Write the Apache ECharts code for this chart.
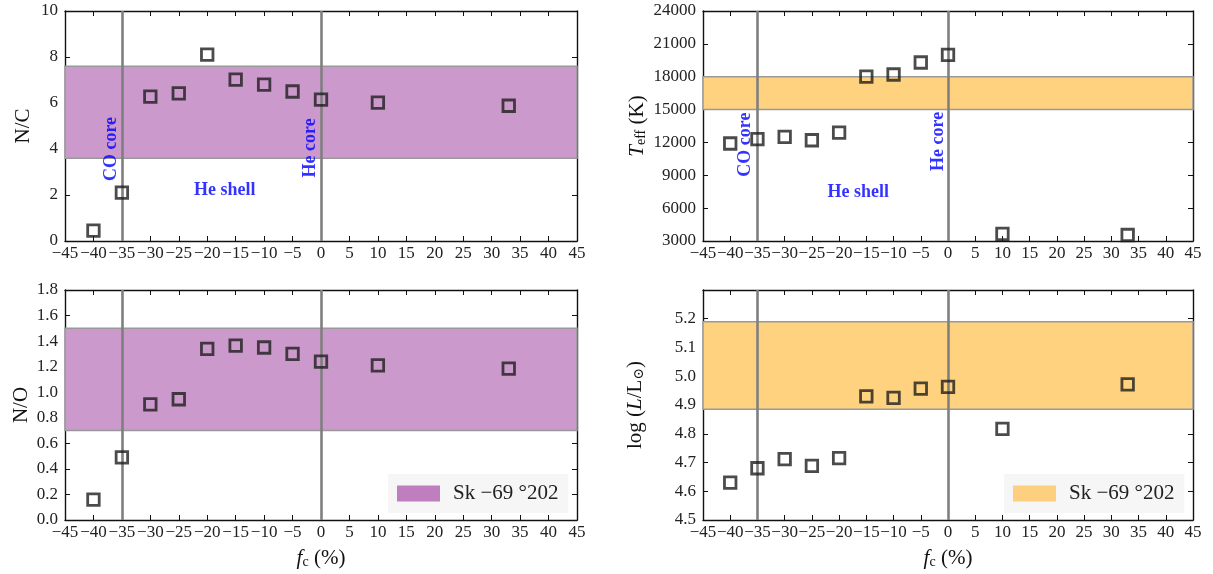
<!DOCTYPE html>
<html>
<head>
<meta charset="utf-8">
<script src="https://cdn.jsdelivr.net/npm/echarts@6/dist/echarts.min.js"></script>
<style>
html,body{margin:0;padding:0;background:#fff;}
#c{width:1213px;height:574px;}
</style>
</head>
<body>
<div id="c"></div>
<script>
// ---- data ----
const fc = [-40, -35, -30, -25, -20, -15, -10, -5, 0, 10, 33];
const nC = [0.45, 2.1, 6.28, 6.42, 8.1, 7.02, 6.8, 6.5, 6.15, 6.02, 5.88];
const teff = [11900, 12300, 12500, 12200, 12900, 18000, 18200, 19300, 20000, 3650, 3550];
const nO = [0.16, 0.49, 0.905, 0.945, 1.34, 1.365, 1.35, 1.30, 1.24, 1.21, 1.185];
const logL = [4.63, 4.68, 4.712, 4.688, 4.715, 4.93, 4.925, 4.957, 4.963, 4.817, 4.972];
const ncBand = [3.6, 7.6];
const teffBand = [15000, 18000];
const noBand = [0.7, 1.5];
const lBand = [4.885, 5.19];
const boundaries = [-35, 0];
const legendLabel = 'Sk \u221269 \u00b0202';
const ncAnnot = [[-36.9, 4.0, 'CO core', 90], [-1.9, 4.05, 'He core', 90], [-16.9, 2.2, 'He shell', 0]];
const teffAnnot = [[-37.2, 11800, 'CO core', 90], [-1.8, 12100, 'He core', 90], [-16.5, 7450, 'He shell', 0]];
const xRange = [-45, 45, 5];
const ncRange = [0, 10, 2];
const teffRange = [3000, 24000, 3000];
const noRange = [0, 1.8, 0.2];
const lRange = [4.5, 5.3, 0.1];

// ---- style ----
const SERIF = '"Liberation Serif", "DejaVu Serif", serif';
const purple = '#cc99cc', purpleLeg = '#bf7fbf';
const orange = '#ffd280', orangeLeg = '#fcd07f';

const grids = [
  {left: 65, top: 11, width: 512, height: 230},
  {left: 703, top: 11, width: 490, height: 230},
  {left: 65, top: 290, width: 512, height: 230},
  {left: 703, top: 290, width: 490, height: 230}
];

function minus(v, dec) {
  const s = dec ? Math.abs(v).toFixed(dec) : String(Math.abs(Math.round(v)));
  return v < 0 ? '\u2212' + s : s;
}

const xAxes = [], yAxes = [], series = [];
const yInfo = [
  {r: ncRange, dec: 0, name: 'N/C', gap: 31, hideMax: false},
  {r: teffRange, dec: 0, name: '{i|T}{s|eff}{n| (K)}', gap: 55, hideMax: false},
  {r: noRange, dec: 1, name: 'N/O', gap: 33, hideMax: false},
  {r: lRange, dec: 1, name: '{n|log (}{i|L}{n|/L}{s|\u2299}{n|)}', gap: 57, hideMax: true}
];
const richName = {
  n: {fontFamily: SERIF, fontSize: 21, color: '#111'},
  i: {fontFamily: SERIF, fontSize: 21, fontStyle: 'italic', color: '#111'},
  s: {fontFamily: SERIF, fontSize: 14, color: '#111', padding: [0, 0, -8, 0]}
};
const axisLine = {show: true, onZero: false, lineStyle: {color: '#111', width: 1.4}};
const tick = {show: true, inside: true, length: 5, lineStyle: {color: '#111', width: 1}};

for (let i = 0; i < 4; i++) {
  const bottom = i >= 2;
  xAxes.push({
    type: 'value', gridIndex: i, min: xRange[0], max: xRange[1], interval: xRange[2],
    position: 'bottom', axisLine, axisTick: tick, splitLine: {show: false},
    axisLabel: {formatter: v => minus(v, 0), fontFamily: SERIF, fontSize: 17, color: '#222', margin: 4},
    name: bottom ? '{i|f}{s|c}{n| (%)}' : '', nameLocation: 'middle', nameGap: 28,
    nameTextStyle: {rich: richName}
  });
}
for (let i = 0; i < 4; i++) {
  xAxes.push({
    type: 'value', gridIndex: i, min: xRange[0], max: xRange[1], interval: xRange[2],
    position: 'top', axisLine, axisTick: tick, axisLabel: {show: false}, splitLine: {show: false}
  });
}
for (let i = 0; i < 4; i++) {
  const yi = yInfo[i];
  yAxes.push({
    type: 'value', gridIndex: i, min: yi.r[0], max: yi.r[1], interval: yi.r[2],
    position: 'left', axisLine, axisTick: tick, splitLine: {show: false},
    axisLabel: {
      formatter: v => (yi.hideMax && Math.abs(v - yi.r[1]) < 1e-9) ? '' : minus(v, yi.dec),
      fontFamily: SERIF, fontSize: 17, color: '#222', margin: 7
    },
    name: yi.name, nameLocation: 'middle', nameGap: yi.gap, nameRotate: 90,
    nameTextStyle: {rich: richName, fontFamily: SERIF, fontSize: 21, color: '#111'}
  });
}
for (let i = 0; i < 4; i++) {
  const yi = yInfo[i];
  yAxes.push({
    type: 'value', gridIndex: i, min: yi.r[0], max: yi.r[1], interval: yi.r[2],
    position: 'right', axisLine, axisTick: tick, axisLabel: {show: false}, splitLine: {show: false}
  });
}

const panels = [
  {vals: nC, band: ncBand, col: purple, name: 'bandNC', annot: ncAnnot},
  {vals: teff, band: teffBand, col: orange, name: 'bandTeff', annot: teffAnnot},
  {vals: nO, band: noBand, col: purple, name: 'bandNO', annot: null},
  {vals: logL, band: lBand, col: orange, name: 'bandL', annot: null}
];

panels.forEach((p, i) => {
  series.push({
    type: 'line', name: p.name, xAxisIndex: i, yAxisIndex: i, data: [], z: 1,
    itemStyle: {color: p.col}, lineStyle: {width: 0}, symbol: 'none', silent: true,
    markArea: {
      silent: true,
      itemStyle: {color: p.col, borderColor: '#999', borderWidth: 1.5},
      data: [[{yAxis: p.band[0]}, {yAxis: p.band[1]}]]
    },
    markLine: {
      silent: true, symbol: 'none', animation: false,
      label: {show: false},
      lineStyle: {color: '#7f7f7f', width: 2.6, type: 'solid'},
      data: boundaries.map(x => ({xAxis: x}))
    }
  });
  series.push({
    type: 'scatter', name: 'models' + i, xAxisIndex: i, yAxisIndex: i, z: 5,
    data: fc.map((x, k) => [x, p.vals[k]]),
    symbol: 'rect', symbolSize: 11.5,
    itemStyle: {color: 'rgba(0,0,0,0)', borderColor: '#1e1e1e', borderWidth: 2.8}
  });
  if (p.annot) {
    series.push({
      type: 'scatter', name: 'annot' + i, xAxisIndex: i, yAxisIndex: i, z: 6,
      symbolSize: 0, silent: true,
      data: p.annot.map(a => ({
        value: [a[0], a[1]], name: a[2],
        label: {rotate: a[3]}
      })),
      label: {
        show: true, position: 'inside', formatter: q => q.name,
        fontFamily: SERIF, fontWeight: 'bold', fontSize: 18, color: '#0000ff'
      }
    });
  }
});

const legendCommon = {
  orient: 'horizontal', selectedMode: false, icon: 'rect',
  itemWidth: 43, itemHeight: 16, backgroundColor: '#f6f6f6',
  padding: [9, 10, 9, 9], itemGap: 14,
  formatter: () => legendLabel,
  textStyle: {fontFamily: SERIF, fontSize: 21, color: '#222', padding: [0, 0, 0, 8]}
};

const option = {
  animation: false,
  backgroundColor: '#fff',
  grid: grids,
  xAxis: xAxes,
  yAxis: yAxes,
  legend: [
    Object.assign({}, legendCommon, {data: [{name: 'bandNO', itemStyle: {color: purpleLeg}}], left: 388, top: 474}),
    Object.assign({}, legendCommon, {data: [{name: 'bandL', itemStyle: {color: orangeLeg}}], left: 1004, top: 474})
  ],
  series
};

const chart = echarts.init(document.getElementById('c'), null, {renderer: 'canvas'});
chart.setOption(option);
</script>
</body>
</html>
